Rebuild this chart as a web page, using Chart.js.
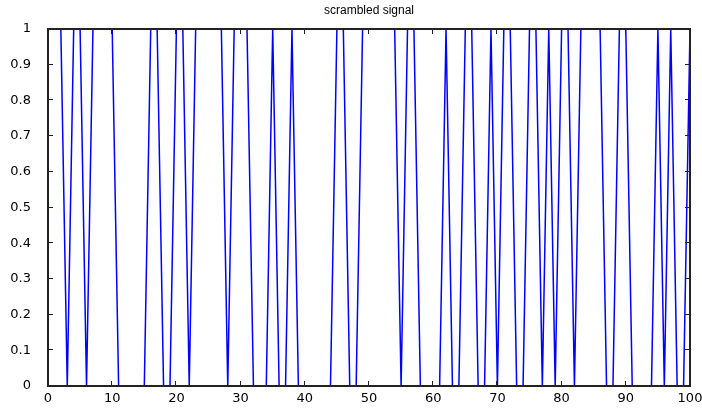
<!DOCTYPE html>
<html>
<head>
<meta charset="utf-8">
<script src="https://cdn.jsdelivr.net/npm/chart.js@4.4.1/dist/chart.umd.min.js"></script>
<style>
  html, body { margin: 0; padding: 0; background: #fff; }
  #sigChart { display: block; }
</style>
</head>
<body>
<canvas id="sigChart" width="702" height="408"></canvas>
<script>
// scrambled bit stream, one value per sample (x = 0..100)
var signal = [
  1, 1, 1, 0, 1, 1, 0, 1, 1, 1, 1,
  0, 0, 0, 0, 0, 1, 1, 0, 0, 1,
  1, 0, 1, 1, 1, 1, 1, 0, 1, 1,
  1, 0, 0, 0, 1, 0, 0, 1, 0, 0,
  0, 0, 0, 0, 1, 1, 0, 0, 1, 1,
  1, 1, 1, 1, 0, 1, 1, 0, 0, 0,
  0, 1, 0, 0, 1, 1, 0, 0, 1, 0,
  1, 1, 0, 0, 1, 1, 0, 1, 0, 1,
  1, 0, 1, 1, 1, 1, 0, 0, 1, 1,
  0, 0, 0, 0, 1, 0, 1, 0, 0, 1
];
var xTicks = [0, 10, 20, 30, 40, 50, 60, 70, 80, 90, 100];
var yTicks = [0, 0.1, 0.2, 0.3, 0.4, 0.5, 0.6, 0.7, 0.8, 0.9, 1];
var titleText = "scrambled signal";

var points = signal.map(function (v, i) { return { x: i, y: v }; });
var tickFont = { family: "DejaVu Sans", size: 13 };

// matlab style box with inward ticks + title
var frame = {
  id: "frame",
  afterDraw: function (chart) {
    var c = chart.ctx, a = chart.chartArea;
    var xs = chart.scales.x, ys = chart.scales.y;
    c.save();
    c.strokeStyle = "#222";
    c.lineWidth = 2;
    c.strokeRect(a.left, a.top, a.right - a.left, a.bottom - a.top);
    c.lineWidth = 1;
    c.beginPath();
    xTicks.forEach(function (v) {
      var px = Math.round(xs.getPixelForValue(v)) - 0.5;
      c.moveTo(px, a.bottom); c.lineTo(px, a.bottom - 5);
      c.moveTo(px, a.top); c.lineTo(px, a.top + 5);
    });
    yTicks.forEach(function (v) {
      var py = Math.round(ys.getPixelForValue(v)) - 0.5;
      c.moveTo(a.left, py); c.lineTo(a.left + 5, py);
      c.moveTo(a.right, py); c.lineTo(a.right - 5, py);
    });
    c.stroke();
    c.fillStyle = "#000";
    c.font = "12px 'Liberation Sans'";
    c.textAlign = "center";
    c.textBaseline = "middle";
    c.fillText(titleText, (a.left + a.right) / 2, 11);
    c.restore();
  }
};

new Chart(document.getElementById("sigChart").getContext("2d"), {
  type: "line",
  data: {
    datasets: [
      {
        label: titleText,
        data: points,
        borderColor: "#0000ff",
        borderWidth: 1.5,
        pointRadius: 0,
        tension: 0,
        fill: false,
      },
    ],
  },
  options: {
    responsive: false,
    animation: false,
    layout: { padding: { top: 29, right: 12, left: 0, bottom: 0 } },
    plugins: {
      legend: { display: false },
      tooltip: { enabled: false },
      title: { display: false },
    },
    scales: {
      x: {
        type: "linear",
        min: 0,
        max: 100,
        grid: { display: false },
        border: { display: false },
        ticks: { font: tickFont, color: "#000", padding: -3, maxRotation: 0 },
        afterBuildTicks: function (s) { s.ticks = xTicks.map(function (v) { return { value: v }; }); },
        afterFit: function (s) { s.height = 22; },
      },
      y: {
        min: 0,
        max: 1,
        grid: { display: false },
        border: { display: false },
        ticks: {
          font: tickFont,
          color: "#000",
          padding: 9,
          callback: function (v) { return String(v); },
        },
        afterBuildTicks: function (s) { s.ticks = yTicks.map(function (v) { return { value: v }; }); },
        afterFit: function (s) { s.width = 48; },
      },
    },
  },
  plugins: [frame],
});
</script>
</body>
</html>
